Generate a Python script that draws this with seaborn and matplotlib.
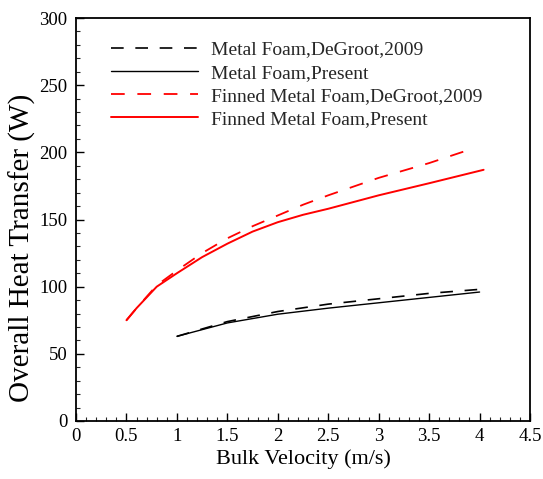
import matplotlib
matplotlib.use("Agg")
import matplotlib.pyplot as plt
import seaborn as sns
from matplotlib.ticker import MultipleLocator, FuncFormatter

sns.set_theme(style="white")
plt.rcParams['font.family'] = ['Liberation Serif', 'DejaVu Serif']

# Data
mf_degroot_x = [1.0, 1.5, 2.0, 2.5, 3.0, 3.5, 4.0]
mf_degroot_y = [63, 74, 81.5, 87, 91, 95, 98]
mf_present_x = [1.0, 1.5, 2.0, 2.5, 3.0, 3.5, 4.0]
mf_present_y = [63, 73, 79.5, 84, 88, 92, 96]
fmf_degroot_x = [0.5, 0.6, 0.8, 1.0, 1.25, 1.5, 1.75, 2.0, 2.25, 2.5, 3.0, 3.5, 3.9]
fmf_degroot_y = [75, 84, 101, 112, 125, 136, 145, 153, 161, 168, 181, 192, 202]
fmf_present_x = [0.5, 0.6, 0.8, 1.0, 1.25, 1.5, 1.75, 2.0, 2.25, 2.5, 3.0, 3.5, 4.04]
fmf_present_y = [75, 84, 100, 110, 122, 132, 141, 148, 153.5, 158, 168, 177, 187]

labels = ["Metal Foam,DeGroot,2009", "Metal Foam,Present",
          "Finned Metal Foam,DeGroot,2009", "Finned Metal Foam,Present"]

fig = plt.figure(figsize=(5.43, 4.79), dpi=100)
ax = fig.add_axes([0.1400, 0.1211, 0.8361, 0.8413])

dash = [7.6, 7.0]
sns.lineplot(x=mf_degroot_x, y=mf_degroot_y, ax=ax, color="black", lw=1.2,
             label=labels[0])
ax.lines[-1].set_dashes(dash)
sns.lineplot(x=mf_present_x, y=mf_present_y, ax=ax, color="black", lw=1.0,
             label=labels[1])
sns.lineplot(x=fmf_degroot_x, y=fmf_degroot_y, ax=ax, color="red", lw=1.3,
             label=labels[2])
ax.lines[-1].set_dashes(dash)
sns.lineplot(x=fmf_present_x, y=fmf_present_y, ax=ax, color="red", lw=1.4,
             label=labels[3])

ax.set_xlim(0, 4.5)
ax.set_ylim(0, 300)
ax.xaxis.set_major_locator(MultipleLocator(0.5))
ax.xaxis.set_minor_locator(MultipleLocator(0.1))
ax.yaxis.set_major_locator(MultipleLocator(50))
ax.yaxis.set_minor_locator(MultipleLocator(10))
ax.xaxis.set_major_formatter(FuncFormatter(lambda v, p: f"{v:g}"))
ax.tick_params(which="major", direction="in", length=6, width=1, labelsize=13.5,
               bottom=True, left=True, top=False, right=False, colors="black")
ax.tick_params(axis="x", which="major", pad=5)
ax.tick_params(axis="y", which="major", pad=6)
ax.tick_params(which="minor", direction="in", length=3, width=0.8,
               bottom=True, left=True, top=False, right=False)
for s in ax.spines.values():
    s.set_color("black")
    s.set_linewidth(1.3)
    s.set_visible(True)

ax.set_xlabel("Bulk Velocity (m/s)", fontsize=16, color="black", labelpad=3)
ax.set_ylabel("Overall Heat Transfer (W)", fontsize=21, color="black")
ax.yaxis.set_label_coords(-0.088, 0.43)

leg = ax.legend(loc="upper left", bbox_to_anchor=(0.077, 0.943), frameon=False,
                fontsize=14, handlelength=4.5, handletextpad=0.62,
                labelspacing=0.28, borderaxespad=0, borderpad=0)

fig.savefig("out.png", dpi=100)
